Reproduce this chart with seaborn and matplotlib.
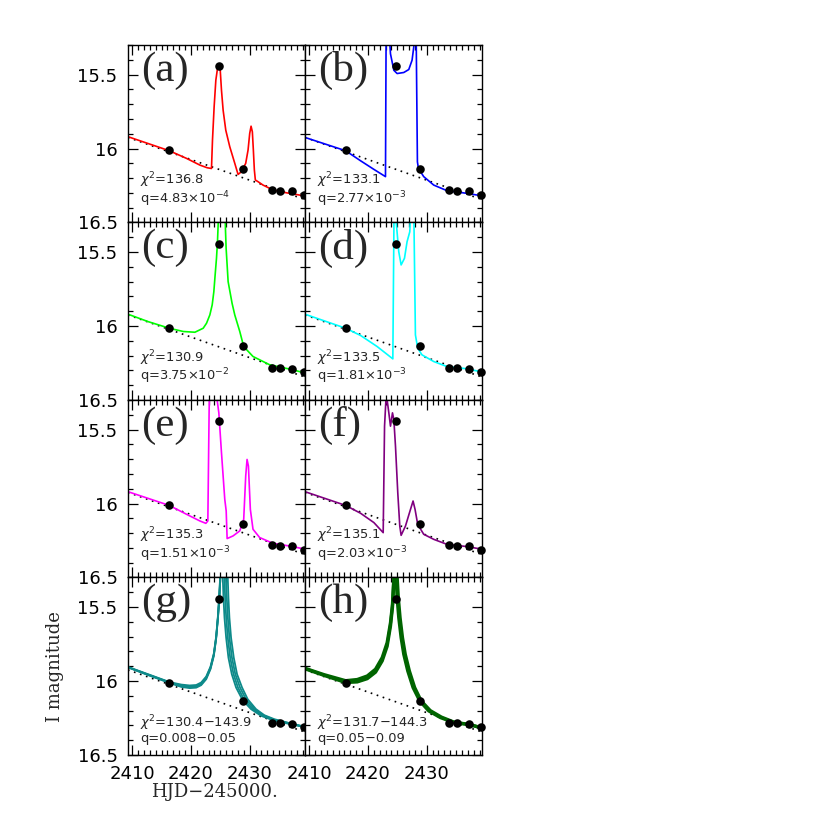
import numpy as np
import pandas as pd
import seaborn as sns
import matplotlib.pyplot as plt
from matplotlib.ticker import MultipleLocator, FormatStrFormatter

# observed points (same in every panel)
obs_hjd = [2416.3, 2424.75, 2428.9, 2433.85, 2435.1, 2437.2, 2439.2]
obs_mag = [16.012, 15.444, 16.138, 16.281, 16.286, 16.29, 16.312]

# single-lens baseline (dotted)
base_hjd = [2409.3, 2439.4]
base_mag = [15.925, 16.345]

# binary-lens model curves
a_hjd = [2409.3, 2416.33, 2419.27, 2421.53, 2422.77, 2423.5, 2423.67, 2423.95, 2424.24, 2424.52, 2424.75,
         2424.97, 2425.2, 2425.48, 2425.93, 2426.61, 2427.46, 2428.02, 2428.59, 2429.32, 2429.72, 2430.0,
         2430.23, 2430.45, 2430.62, 2430.79, 2430.96, 2431.41, 2432.26, 2433.95, 2436.21, 2439.4]
a_mag = [15.92, 16.015, 16.067, 16.112, 16.13, 16.135, 15.943, 15.718, 15.538, 15.459, 15.43,
         15.459, 15.606, 15.741, 15.876, 15.988, 16.1, 16.175, 16.157, 16.1, 16.01, 15.898,
         15.849, 15.887, 16.01, 16.145, 16.213, 16.224, 16.247, 16.28, 16.299, 16.321]

b_hjd = [2409.3, 2416.22, 2418.76, 2421.02, 2422.99, 2423.1, 2423.6, 2423.84, 2424.41, 2424.97, 2426.1,
         2426.95, 2427.51, 2427.8, 2427.95, 2428.2, 2428.42, 2428.59, 2429.49, 2431.19, 2433.45, 2436.84, 2439.4]
b_mag = [15.925, 16.015, 16.083, 16.141, 16.19, 15.2, 15.2, 15.36, 15.471, 15.493, 15.486,
         15.466, 15.403, 15.313, 15.2, 15.2, 16.09, 16.134, 16.19, 16.247, 16.285, 16.303, 16.32]

c_hjd = [2409.3, 2412.7, 2416.33, 2418.7, 2420.68, 2422.09, 2422.66, 2423.22, 2423.62, 2423.9, 2424.12,
         2424.35, 2424.52, 2424.63, 2424.7, 2425.8, 2425.88, 2425.99, 2426.33, 2427.0, 2427.46, 2428.31,
         2428.98, 2430.56, 2433.39, 2437.34, 2439.4]
c_mag = [15.92, 15.97, 16.015, 16.037, 16.042, 16.015, 15.981, 15.925, 15.857, 15.768, 15.655,
         15.542, 15.43, 15.318, 15.2, 15.2, 15.35, 15.475, 15.70, 15.846, 15.925, 16.037,
         16.139, 16.206, 16.262, 16.296, 16.318]

d_hjd = [2409.3, 2416.22, 2418.76, 2421.58, 2424.24, 2424.45, 2424.7, 2424.86, 2425.25, 2425.65, 2426.22,
         2426.66, 2427.12, 2427.3, 2427.8, 2428.08, 2428.47, 2429.2, 2431.19, 2433.45, 2436.84, 2439.4]
d_mag = [15.92, 16.015, 16.064, 16.139, 16.222, 15.2, 15.2, 15.318, 15.498, 15.587, 15.542,
         15.43, 15.363, 15.2, 15.2, 16.06, 16.15, 16.195, 16.24, 16.274, 16.289, 16.311]

e_hjd = [2409.3, 2416.33, 2419.27, 2421.53, 2422.54, 2422.88, 2423.1, 2423.2, 2424.3, 2424.46, 2424.75,
         2425.2, 2425.76, 2426.0, 2426.16, 2427.17, 2428.31, 2428.98, 2429.32, 2429.55, 2429.78, 2430.11,
         2430.56, 2431.69, 2433.95, 2437.34, 2439.4]
e_mag = [15.92, 16.013, 16.073, 16.118, 16.134, 16.118, 15.365, 15.2, 15.2, 15.3, 15.387,
         15.657, 15.972, 16.05, 16.237, 16.219, 16.185, 16.107, 15.814, 15.702, 15.747, 16.04,
         16.174, 16.23, 16.269, 16.291, 16.309]

f_hjd = [2409.3, 2416.22, 2418.76, 2421.02, 2422.6, 2422.83, 2423.05, 2423.27, 2423.56, 2423.84, 2424.18,
         2424.41, 2424.69, 2425.08, 2425.42, 2425.65, 2426.39, 2427.24, 2427.68, 2428.02, 2428.47, 2429.49,
         2431.19, 2433.45, 2436.84, 2439.4]
f_mag = [15.92, 16.013, 16.066, 16.129, 16.197, 15.477, 15.31, 15.30, 15.387, 15.477, 15.387,
         15.432, 15.612, 15.927, 16.152, 16.215, 16.152, 16.04, 15.983, 16.04, 16.141, 16.208,
         16.242, 16.276, 16.291, 16.309]

# panel (g): family of models, q=0.008-0.05
g1_hjd = [2409.3, 2412.71, 2416.44, 2418.36, 2419.78, 2420.9, 2421.75, 2422.6, 2423.33, 2423.9, 2424.29,
          2424.58, 2424.8, 2424.97, 2425.05, 2425.35, 2425.42, 2425.54, 2425.71, 2425.99, 2426.38, 2426.95,
          2427.68, 2428.81, 2430.22, 2431.92, 2434.18, 2437.0, 2439.4]
g1_mag = [15.905, 15.954, 16.008, 16.024, 16.03, 16.027, 16.01, 15.97, 15.903, 15.813, 15.70,
          15.566, 15.432, 15.30, 15.2, 15.2, 15.302, 15.437, 15.572, 15.707, 15.842, 15.954,
          16.044, 16.13, 16.19, 16.235, 16.269, 16.292, 16.312]
g2_hjd = [2409.3, 2412.71, 2416.44, 2418.36, 2419.78, 2420.9, 2421.75, 2422.6, 2423.33, 2423.9, 2424.29,
          2424.59, 2424.82, 2424.98, 2425.07, 2425.62, 2425.7, 2425.82, 2426.0, 2426.27, 2426.68, 2427.25,
          2428.0, 2429.1, 2430.5, 2432.2, 2434.18, 2437.0, 2439.4]
g2_mag = [15.906, 15.956, 16.01, 16.03, 16.036, 16.033, 16.016, 15.976, 15.909, 15.819, 15.705,
          15.569, 15.435, 15.303, 15.2, 15.2, 15.302, 15.437, 15.572, 15.707, 15.842, 15.954,
          16.044, 16.13, 16.19, 16.234, 16.265, 16.29, 16.311]
g3_hjd = [2409.3, 2412.71, 2416.44, 2418.36, 2419.78, 2420.9, 2421.75, 2422.6, 2423.33, 2423.9, 2424.29,
          2424.6, 2424.84, 2424.99, 2425.08, 2425.88, 2425.95, 2426.1, 2426.28, 2426.55, 2426.98, 2427.55,
          2428.35, 2429.4, 2430.8, 2432.3, 2434.18, 2437.0, 2439.4]
g3_mag = [15.907, 15.958, 16.012, 16.035, 16.042, 16.039, 16.022, 15.982, 15.914, 15.824, 15.71,
          15.572, 15.438, 15.306, 15.2, 15.2, 15.302, 15.437, 15.572, 15.707, 15.842, 15.954,
          16.044, 16.126, 16.19, 16.232, 16.262, 16.288, 16.31]
g4_hjd = [2409.3, 2412.71, 2416.44, 2418.36, 2419.78, 2420.9, 2421.75, 2422.6, 2423.33, 2423.9, 2424.29,
          2424.6, 2424.85, 2425.0, 2425.1, 2426.2, 2426.27, 2426.38, 2426.55, 2426.83, 2427.29, 2427.85,
          2428.7, 2429.66, 2431.07, 2432.49, 2434.18, 2437.0, 2439.4]
g4_mag = [15.908, 15.96, 16.014, 16.04, 16.048, 16.045, 16.028, 15.988, 15.92, 15.83, 15.715,
          15.575, 15.44, 15.31, 15.2, 15.2, 15.302, 15.437, 15.572, 15.707, 15.842, 15.954,
          16.044, 16.123, 16.19, 16.231, 16.258, 16.287, 16.31]

# panel (h): family of models, q=0.05-0.09
h1_hjd = [2409.3, 2412.54, 2416.22, 2418.19, 2419.89, 2421.3, 2422.43, 2423.27, 2423.84, 2424.18, 2424.41,
          2424.5, 2424.75, 2424.8, 2424.97, 2425.25, 2425.65, 2426.1, 2426.78, 2427.68, 2428.81, 2430.34,
          2432.32, 2434.58, 2437.4, 2439.4]
h1_mag = [15.914, 15.957, 15.998, 15.99, 15.966, 15.92, 15.842, 15.741, 15.606, 15.482, 15.302,
          15.2, 15.2, 15.302, 15.437, 15.572, 15.707, 15.819, 15.932, 16.044, 16.134, 16.202,
          16.247, 16.28, 16.296, 16.318]
h2_hjd = [2409.3, 2412.54, 2416.22, 2418.19, 2419.89, 2421.3, 2422.43, 2423.27, 2423.84, 2424.18, 2424.43,
          2424.52, 2424.9, 2424.98, 2425.17, 2425.47, 2425.88, 2426.35, 2427.05, 2427.95, 2429.05, 2430.6,
          2432.5, 2434.65, 2437.4, 2439.4]
h2_mag = [15.917, 15.962, 16.01, 16.006, 15.984, 15.94, 15.864, 15.765, 15.628, 15.5, 15.31,
          15.2, 15.2, 15.302, 15.437, 15.572, 15.707, 15.819, 15.932, 16.044, 16.134, 16.2,
          16.244, 16.278, 16.295, 16.318]

labels = ['(a)', '(b)', '(c)', '(d)', '(e)', '(f)', '(g)', '(h)']
chi2_text = ['136.8', '133.1', '130.9', '133.5', '135.3', '135.1', '130.4\u2212143.9', '131.7\u2212144.3']
q_text = [r'4.83$\times$10$^{-4}$', r'2.77$\times$10$^{-3}$', r'3.75$\times$10$^{-2}$',
          r'1.81$\times$10$^{-3}$', r'1.51$\times$10$^{-3}$', r'2.03$\times$10$^{-3}$',
          '0.008\u22120.05', '0.05\u22120.09']
colors = ['#ff0000', '#0000ff', '#00ff00', '#00ffff', '#ff00ff', '#800080', '#0e8a8a', '#006400']

curves = [[(a_hjd, a_mag)], [(b_hjd, b_mag)], [(c_hjd, c_mag)], [(d_hjd, d_mag)],
          [(e_hjd, e_mag)], [(f_hjd, f_mag)],
          [(g1_hjd, g1_mag), (g2_hjd, g2_mag), (g3_hjd, g3_mag), (g4_hjd, g4_mag)],
          [(h1_hjd, h1_mag), (h2_hjd, h2_mag)]]
widths = [1.2, 1.2, 1.2, 1.2, 1.2, 1.2, 1.3, 2.4]

sns.set_style("ticks")
plt.rcParams['font.family'] = ['DejaVu Sans']
plt.rcParams['mathtext.fontset'] = 'dejavusans'

fig, axes = plt.subplots(4, 2, figsize=(8.3, 8.3), dpi=100,
                         gridspec_kw=dict(left=0.1542, right=0.5807, top=0.9458, bottom=0.0904,
                                          hspace=0, wspace=0))

for i, ax in enumerate(axes.flat):
    row, col = divmod(i, 2)
    sns.lineplot(x=base_hjd, y=base_mag, ax=ax, color='black', lw=1.2,
                 linestyle=(0, (1, 2.8)), sort=False, estimator=None)
    for hj, mg in curves[i]:
        sns.lineplot(x=hj, y=mg, ax=ax, color=colors[i], lw=widths[i], sort=False, estimator=None)
    sns.scatterplot(x=obs_hjd, y=obs_mag, ax=ax, color='black', s=38, edgecolor='black',
                    linewidth=0, zorder=5, clip_on=False)

    ax.set_xlim(2409.3, 2439.4)
    ax.set_ylim(16.5, 15.3)
    ax.xaxis.set_major_locator(MultipleLocator(10))
    ax.xaxis.set_minor_locator(MultipleLocator(1))
    ax.yaxis.set_major_locator(MultipleLocator(0.5))
    ax.yaxis.set_minor_locator(MultipleLocator(0.1))
    ax.xaxis.set_major_formatter(FormatStrFormatter('%d'))
    ax.yaxis.set_major_formatter(FormatStrFormatter('%g'))
    ax.tick_params(which='both', direction='in', top=True, right=True, width=0.9, colors='black')
    ax.tick_params(which='major', length=7, labelsize=13, pad=7.5)
    ax.tick_params(which='minor', length=3.5)
    for sp in ax.spines.values():
        sp.set_linewidth(1.0)
        sp.set_color('black')
    if col == 1:
        ax.tick_params(labelleft=False)
    if row < 3:
        ax.tick_params(labelbottom=False)
    ax.set_xlabel('')
    ax.set_ylabel('')

    # baseline of the lower (q) line
    q_y = 0.075 if row == 3 else 0.11
    ax.text(0.072, 0.965, labels[i], transform=ax.transAxes, ha='left', va='top',
            fontsize=31, family='Liberation Serif')
    # chi^2 and q as one two-line block
    ax.text(0.068, q_y, r'$\chi^2$=' + chi2_text[i] + '\nq=' + q_text[i],
            transform=ax.transAxes, ha='left', va='baseline', fontsize=9.4, linespacing=0.9)

axes[3, 0].set_xlabel('HJD\u2212245000.', fontsize=13, family='DejaVu Serif')
axes[3, 0].xaxis.set_label_coords(0.49, -0.16)
axes[3, 0].set_ylabel('I magnitude', fontsize=13, family='DejaVu Serif')
axes[3, 0].yaxis.set_label_coords(-0.36, 0.5)

fig.savefig('out.png', dpi=100)
